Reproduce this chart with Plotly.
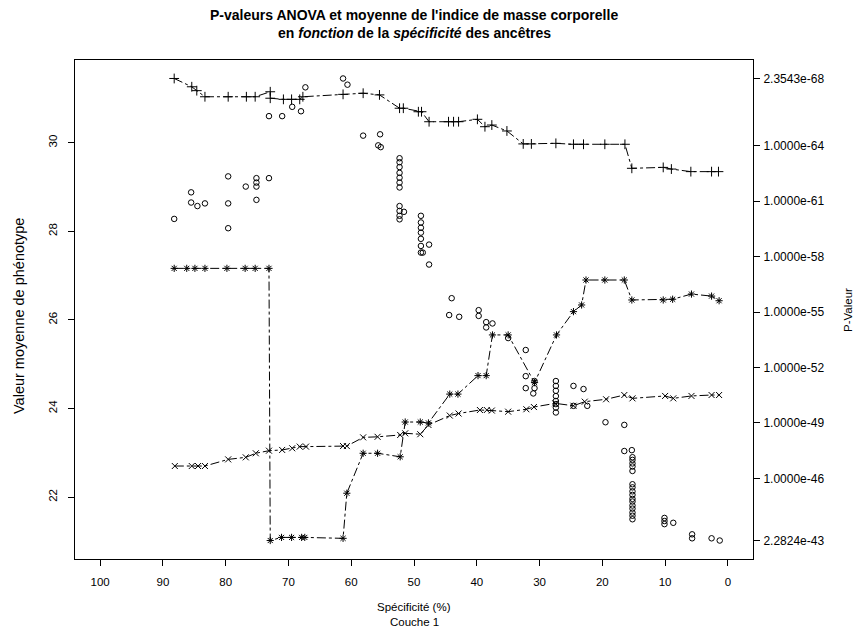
import numpy as np
import plotly.graph_objects as go

# ---------------------------------------------------------------
# Mean BMI of each ancestor (left axis)
# ---------------------------------------------------------------
circ_spec = [88.2, 85.5, 85.5, 84.5, 83.3, 79.6, 79.6, 79.6, 76.8,
             75.1, 75.1, 75.1, 75.1, 73.1, 73.1, 71.0, 69.4, 68.0, 67.3,
             61.3, 60.6, 58.1, 55.4, 55.7, 55.3,
             52.3, 52.3, 52.3, 52.3, 52.3, 52.3, 52.3, 52.3, 52.3, 52.3, 52.3,
             51.6,
             48.9, 48.9, 48.9, 48.9, 48.9, 48.9, 48.9,
             47.6, 48.6, 47.6, 44.0, 44.4, 42.8, 39.7, 39.7, 38.5, 37.5, 38.5,
             35.0, 32.2, 32.2, 32.2, 30.8, 31.0, 30.8,
             27.4, 27.4, 27.4, 27.4, 27.4, 27.4, 27.4, 27.4,
             24.6, 23.0, 24.6, 22.4, 19.5, 16.5, 16.5, 15.3,
             15.2, 15.2, 15.2, 15.2, 15.2, 15.2, 15.2, 15.2, 15.2, 15.2,
             15.2, 15.2, 15.2, 15.2, 15.2, 15.2,
             10.1, 10.1, 10.1, 8.7, 5.7, 5.7, 2.6, 1.3]
circ_bmi = [28.28, 28.88, 28.65, 28.57, 28.63, 29.24, 28.63, 28.07, 29.01,
            29.20, 29.10, 29.01, 28.71, 29.20, 30.60, 30.60, 30.81, 30.71, 31.25,
            31.45, 31.31, 30.16, 30.19, 29.94, 29.90,
            29.65, 29.56, 29.45, 29.32, 29.21, 29.10, 28.99, 28.57, 28.46, 28.35, 28.27,
            28.44,
            28.35, 28.20, 28.08, 27.97, 27.83, 27.67, 27.52,
            27.70, 27.52, 27.25, 26.49, 26.11, 26.07, 26.22, 26.09, 25.95, 25.92, 25.83,
            25.59, 25.32, 24.73, 24.46, 24.46, 24.34, 24.62,
            24.62, 24.51, 24.40, 24.28, 24.17, 24.10, 24.02, 23.91,
            24.51, 24.44, 24.06, 24.06, 23.69, 23.63, 23.04, 23.06,
            22.90, 22.84, 22.76, 22.69, 22.59, 22.29, 22.22, 22.13, 22.05, 21.96,
            21.90, 21.81, 21.74, 21.65, 21.58, 21.50,
            21.53, 21.46, 21.39, 21.42, 21.16, 21.07, 21.07, 21.02]

# ---------------------------------------------------------------
# ANOVA p-values, recorded as -log10(p) (right axis)
# ---------------------------------------------------------------
plus_spec = [88.2, 85.4, 84.6, 83.3, 79.6, 76.7, 75.3, 72.9, 72.9, 70.8,
             69.5, 68.2, 67.7, 61.3, 58.1, 55.5, 52.3, 51.7, 49.3, 48.8,
             47.6, 44.5, 43.7, 42.9, 39.9, 38.7, 37.6, 35.2, 32.6, 31.3,
             27.4, 24.6, 23.0, 19.6, 16.4, 15.3, 10.3, 9.0, 5.9, 2.6, 1.5]
plus_mlogp = [67.628, 67.18, 66.97, 66.64, 66.64, 66.64, 66.64, 66.91, 66.56, 66.50,
              66.50, 66.50, 66.64, 66.77, 66.83, 66.74, 66.02, 66.02, 65.83, 65.83,
              65.29, 65.29, 65.29, 65.29, 65.42, 65.02, 65.11, 64.79, 64.09, 64.09,
              64.12, 64.07, 64.07, 64.07, 64.07, 62.77, 62.82, 62.73, 62.59, 62.59, 62.59]

cross_spec = [88.1, 85.4, 84.4, 83.3, 79.6, 76.8, 75.2, 73.1, 71.0, 69.4,
              68.2, 67.2, 61.3, 60.7, 58.1, 55.8, 52.2, 51.4, 49.0, 47.7,
              44.3, 42.9, 39.5, 38.4, 37.6, 35.0, 32.1, 30.9, 27.5, 24.6,
              22.8, 19.4, 16.5, 15.2, 10.0, 8.7, 5.8, 2.6, 1.4]
cross_mlogp = [46.67, 46.67, 46.67, 46.67, 47.03, 47.14, 47.36, 47.50, 47.54, 47.63,
               47.72, 47.72, 47.75, 47.75, 48.22, 48.25, 48.35, 48.44, 48.39, 48.89,
               49.40, 49.51, 49.70, 49.70, 49.67, 49.61, 49.74, 49.86, 50.06, 49.93,
               50.15, 50.28, 50.51, 50.33, 50.46, 50.33, 50.46, 50.51, 50.51]

star_spec = [88.2, 86.2, 84.9, 83.3, 79.8, 76.9, 75.3, 73.1, 72.9, 71.1,
             69.5, 67.9, 67.4, 61.3, 60.7, 58.1, 55.8, 52.2, 51.4, 49.0,
             47.7, 44.3, 43.0, 39.8, 38.5, 37.5, 35.0, 30.8, 27.3, 24.6,
             23.3, 22.6, 19.6, 16.5, 15.3, 10.3, 8.8, 5.8, 2.6, 1.4]
star_mlogp = [57.36, 57.36, 57.36, 57.36, 57.36, 57.36, 57.36, 57.36, 42.642, 42.81,
              42.81, 42.81, 42.81, 42.76, 45.20, 47.36, 47.36, 47.17, 49.05, 49.05,
              49.00, 50.56, 50.56, 51.56, 51.56, 53.76, 53.76, 51.18, 53.76, 55.02,
              55.38, 56.73, 56.73, 56.73, 55.65, 55.65, 55.69, 55.97, 55.86, 55.61]

x_ticks = list(range(0, 101, 10))
bmi_ticks = [22, 24, 26, 28, 30]
p_ticks = [2.3543e-68, 1e-64, 1e-61, 1e-58, 1e-55, 1e-52, 1e-49, 1e-46, 2.2824e-43]
p_tick_text = ["2.3543e-68", "1.0000e-64", "1.0000e-61", "1.0000e-58",
               "1.0000e-55", "1.0000e-52", "1.0000e-49", "1.0000e-46", "2.2824e-43"]

FONT = "Liberation Sans, Arial, Helvetica, sans-serif"
W, H = 866, 638
L_PX, R_PX, T_PX, B_PX = 75, 753, 60, 559


def px_to_paper(px, py):
    return (px - L_PX) / (R_PX - L_PX), (B_PX - py) / (B_PX - T_PX)


def padded(lo, hi, frac=0.04):
    d = hi - lo
    return lo - frac * d, hi + frac * d


plus_p = 10.0 ** (-np.array(plus_mlogp))
cross_p = 10.0 ** (-np.array(cross_mlogp))
star_p = 10.0 ** (-np.array(star_mlogp))

all_mlogp = np.concatenate([plus_mlogp, cross_mlogp, star_mlogp])
m_lo, m_hi = padded(all_mlogp.min(), all_mlogp.max())
b_lo, b_hi = padded(min(circ_bmi), max(circ_bmi))

fig = go.Figure()

fig.add_trace(go.Scatter(
    x=circ_spec, y=circ_bmi, mode="markers", yaxis="y",
    marker=dict(symbol="circle-open", size=5.5, color="black", line=dict(width=1, color="black")),
    showlegend=False))

line_style = dict(color="black", width=1, dash="dashdot")
for xs, ps, sym, sz in [(plus_spec, plus_p, "cross-thin-open", 7),
                         (cross_spec, cross_p, "x-thin-open", 6),
                         (star_spec, star_p, "asterisk-open", 6)]:
    fig.add_trace(go.Scatter(
        x=xs, y=ps, mode="lines+markers", yaxis="y2", line=line_style,
        marker=dict(symbol=sym, size=sz, color="black", line=dict(width=1, color="black")),
        showlegend=False))

axis_common = dict(showgrid=False, zeroline=False, showline=True, linecolor="black",
                   linewidth=1, ticks="outside", ticklen=6, tickcolor="black")

fig.update_layout(
    width=W, height=H,
    margin=dict(l=L_PX, r=W - R_PX, t=T_PX, b=H - B_PX),
    paper_bgcolor="white", plot_bgcolor="white",
    font=dict(family=FONT, color="black"),
    xaxis=dict(range=[104, -4], tickvals=x_ticks, ticktext=[str(v) for v in x_ticks],
               mirror=True, ticklabelstandoff=6,
               tickfont=dict(family=FONT, size=11.5, color="black"), **axis_common),
    yaxis=dict(range=[b_lo, b_hi], tickvals=bmi_ticks, tickangle=-90,
               mirror=True, ticklabelstandoff=6,
               tickfont=dict(family=FONT, size=11.5, color="black"), **axis_common),
    yaxis2=dict(type="log", overlaying="y", side="right", range=[-m_lo, -m_hi],
                tickvals=p_ticks, ticktext=p_tick_text, ticklabelstandoff=1,
                tickfont=dict(family=FONT, size=12, color="black"), **axis_common),
)

ann = []
def add_text(txt, px, py, size=11, angle=0):
    x, y = px_to_paper(px, py)
    ann.append(dict(text=txt, x=x, y=y, xref="paper", yref="paper", showarrow=False,
                    textangle=angle, xanchor="center", yanchor="middle",
                    font=dict(family=FONT, size=size, color="black")))

add_text("<b>P-valeurs ANOVA et moyenne de l'indice de masse corporelle</b>", 414, 15, size=14)
add_text("<b>en <i>fonction</i> de la <i>spécificité</i> des ancêtres</b>", 414, 33, size=14)
add_text("Valeur moyenne de phénotype", 19, 316, size=14.5, angle=-90)
add_text("P-Valeur", 848, 310, size=11.5, angle=-90)
add_text("Spécificité (%)", 414, 607, size=11.5)
add_text("Couche 1", 414, 622, size=11.5)
fig.update_layout(annotations=ann)

fig.write_html("out.html")
